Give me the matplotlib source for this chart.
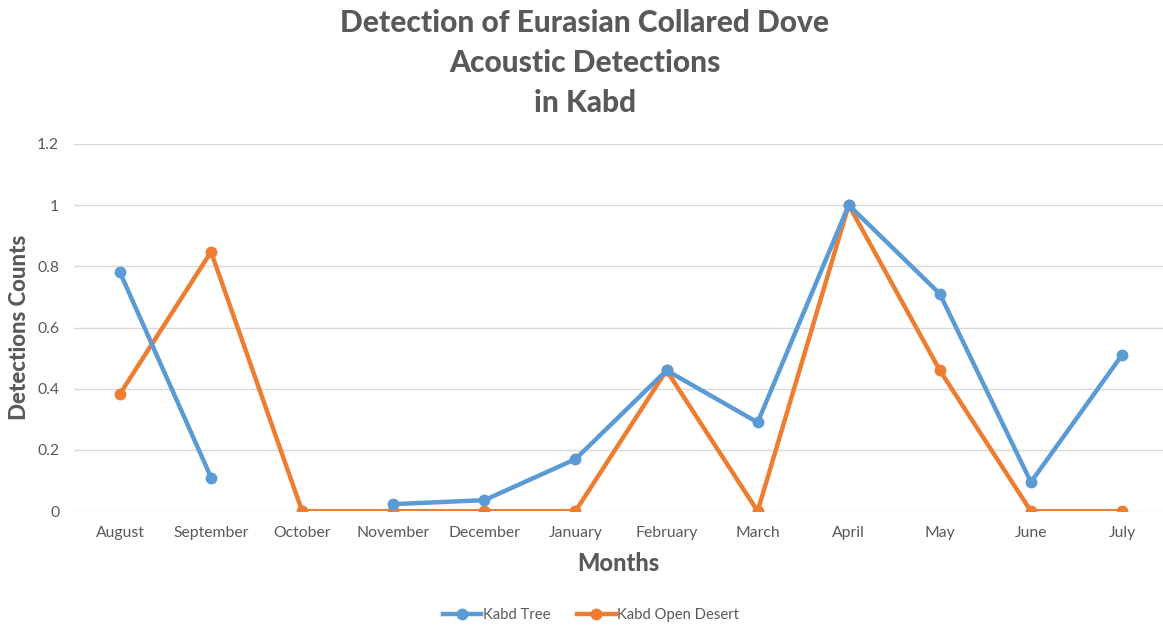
import numpy as np
import matplotlib.pyplot as plt
from matplotlib.lines import Line2D

months = ["August", "September", "October", "November", "December", "January",
          "February", "March", "April", "May", "June", "July"]
kabd_tree = [0.78, 0.11, np.nan, 0.023, 0.036, 0.17, 0.46, 0.29, 1.0, 0.71, 0.095, 0.51]
kabd_open_desert = [0.383, 0.847, 0, 0, 0, 0, 0.46, 0, 1.0, 0.46, 0, 0]
y_ticks = [0, 0.2, 0.4, 0.6, 0.8, 1, 1.2]

plt.rcParams['font.family'] = ['Lato', 'DejaVu Sans']
text_grey = '#595959'
blue = '#5b9bd5'
orange = '#ed7d31'

fig = plt.figure(figsize=(11.63, 6.28), dpi=100)
ax = fig.add_axes([0.064, 0.186, 0.936, 0.585])

x = np.arange(len(months))
ax.plot(x, kabd_tree, color=blue, lw=3.2, marker='o', ms=7.5, label='Kabd Tree', zorder=3)
ax.plot(x, kabd_open_desert, color=orange, lw=3.2, marker='o', ms=7.5,
        label='Kabd Open Desert', zorder=2)

ax.set_xlim(-0.5, 11.45)
ax.set_ylim(0, 1.2)
ax.set_xticks(x)
ax.set_xticklabels(months)
ax.set_yticks(y_ticks)
ax.set_yticklabels([f"{t:g}" for t in y_ticks])
ax.tick_params(axis='both', length=0, labelsize=11.3, colors=text_grey)
ax.tick_params(axis='x', pad=11)
ax.tick_params(axis='y', pad=11)
ax.grid(axis='y', color='#d9d9d9', lw=1)
ax.set_axisbelow(True)
for s in ax.spines.values():
    s.set_visible(False)

ax.set_xlabel("Months", fontsize=17, fontweight='black', color=text_grey, labelpad=8)
ax.set_ylabel("Detections Counts", fontsize=16, fontweight='black', color=text_grey, labelpad=5)

fig.text(0.503, 0.985, "Detection of Eurasian Collared Dove\nAcoustic Detections\nin Kabd",
         ha='center', va='top', fontsize=21.5, fontweight='black', color=text_grey,
         linespacing=1.52)

handles = [Line2D([], [], color=blue, lw=3.2, marker='o', ms=7.5),
           Line2D([], [], color=orange, lw=3.2, marker='o', ms=7.5)]
fig.legend(handles, ['Kabd Tree', 'Kabd Open Desert'], loc='center',
           bbox_to_anchor=(0.508, 0.02), ncol=2, frameon=False, fontsize=10.7,
           labelcolor=text_grey, handlelength=2.6, handletextpad=0.1, columnspacing=1.8)

fig.savefig("out.png", dpi=100)
